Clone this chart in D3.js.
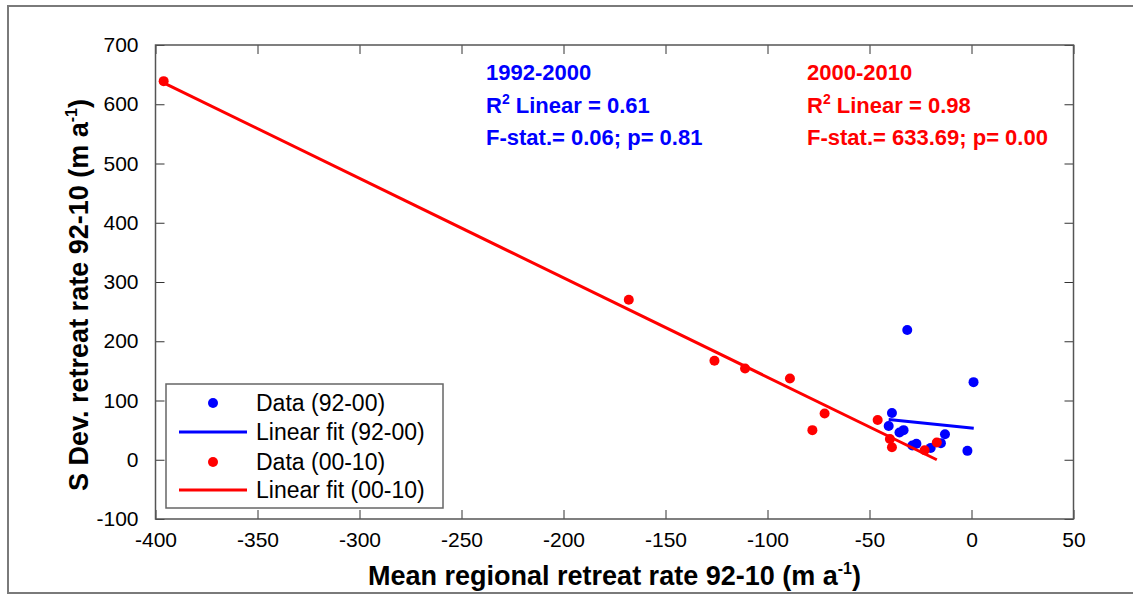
<!DOCTYPE html>
<html><head><meta charset="utf-8">
<script src="https://cdn.jsdelivr.net/npm/d3@7"></script>
<style>body{margin:0;background:#fff}svg{display:block}text{font-family:"Liberation Sans",Arial,sans-serif}</style>
</head><body><svg id="c" width="1133" height="594"></svg>
<script>
const xTicks = [-400,-350,-300,-250,-200,-150,-100,-50,0,50];
const yTicks = [-100,0,100,200,300,400,500,600,700];
const blueX = [-31.5, 1, -39, -40.6, -35.3, -33.3, -29, -27, -20, -15, -13, -2];
const blueY = [219, 131, 79, 57, 46, 50, 24, 27, 20, 28, 43, 15];
const redX = [-396, -168, -126, -111, -89, -72, -78, -46, -40, -39, -23, -17];
const redY = [639, 270, 167, 154, 137, 78, 50, 67, 35, 21, 16, 29];
const blueFitX = [-40.6, 1.1];
const blueFitY = [68, 53];
const redFitX = [-396, -17];
const redFitY = [636, 0];
const legendLabels = ["Data (92-00)","Linear fit (92-00)","Data (00-10)","Linear fit (00-10)"];
const blueStats = ["1992-2000","Linear = 0.61","F-stat.= 0.06; p= 0.81"];
const redStats = ["2000-2010","Linear = 0.98","F-stat.= 633.69; p= 0.00"];

const BLUE="#0000ff", RED="#ff0000";
const svg = d3.select("#c");
const L=155.5, R=1073.5, T=45, B=519;
const x = d3.scaleLinear().domain([-400,50]).range([L,R]);
const y = d3.scaleLinear().domain([-100,700]).range([B,T]);
const fmt = d => String(d);

// outer border
svg.append("rect").attr("x",8).attr("y",6).attr("width",1140).attr("height",587)
  .attr("fill","none").attr("stroke","#7a7a7a").attr("stroke-width",2);

// axes with inward ticks
const ax = (g)=>g.selectAll(".domain").remove();
svg.append("g").attr("transform",`translate(0,${B})`)
  .call(d3.axisBottom(x).tickValues(xTicks).tickSizeInner(-9).tickSizeOuter(0).tickPadding(13).tickFormat(fmt))
  .call(ax).call(g=>g.selectAll("text").attr("font-size",21).attr("fill","#000").attr("dy","0.71em"))
  .call(g=>g.selectAll("line").attr("stroke","#333"));
svg.append("g").attr("transform",`translate(0,${T})`)
  .call(d3.axisTop(x).tickValues(xTicks).tickSizeInner(-9).tickSizeOuter(0).tickFormat(""))
  .call(ax).call(g=>g.selectAll("line").attr("stroke","#333"));
svg.append("g").attr("transform",`translate(${L},0)`)
  .call(d3.axisLeft(y).tickValues(yTicks).tickSizeInner(-9).tickSizeOuter(0).tickPadding(17).tickFormat(fmt))
  .call(ax).call(g=>g.selectAll("text").attr("font-size",21).attr("fill","#000"))
  .call(g=>g.selectAll("line").attr("stroke","#333"));
svg.append("g").attr("transform",`translate(${R},0)`)
  .call(d3.axisRight(y).tickValues(yTicks).tickSizeInner(-9).tickSizeOuter(0).tickFormat(""))
  .call(ax).call(g=>g.selectAll("line").attr("stroke","#333"));
svg.append("rect").attr("x",L).attr("y",T).attr("width",R-L).attr("height",B-T)
  .attr("fill","none").attr("stroke","#555").attr("stroke-width",1.5);

// data
const line = d3.line().x(d=>x(d[0])).y(d=>y(d[1]));
svg.append("g").selectAll("circle").data(d3.zip(blueX,blueY)).join("circle")
  .attr("cx",d=>x(d[0])).attr("cy",d=>y(d[1])).attr("r",5).attr("fill",BLUE);
svg.append("path").datum(d3.zip(blueFitX,blueFitY)).attr("d",line)
  .attr("fill","none").attr("stroke",BLUE).attr("stroke-width",3);
svg.append("g").selectAll("circle").data(d3.zip(redX,redY)).join("circle")
  .attr("cx",d=>x(d[0])).attr("cy",d=>y(d[1])).attr("r",5).attr("fill",RED);
svg.append("path").datum(d3.zip(redFitX,redFitY)).attr("d",line)
  .attr("fill","none").attr("stroke",RED).attr("stroke-width",3);

// stats text
function stats(x0, lines, col){
  const g = svg.append("g").attr("fill",col).attr("font-weight","bold").attr("font-size",22);
  g.append("text").attr("x",x0).attr("y",80).text(lines[0]);
  const t = g.append("text").attr("x",x0).attr("y",113);
  t.append("tspan").text("R");
  t.append("tspan").attr("font-size",14).attr("dy",-9).text("2");
  t.append("tspan").attr("dy",9).text(" "+lines[1]);
  g.append("text").attr("x",x0).attr("y",145).text(lines[2]);
}
stats(486, blueStats, BLUE);
stats(807, redStats, RED);

// legend
const lg = svg.append("g");
lg.append("rect").attr("x",166).attr("y",384).attr("width",277).attr("height",124)
  .attr("fill","#fff").attr("stroke","#666").attr("stroke-width",1.5);
const rows=[403,432,462,490];
const cols=[BLUE,BLUE,RED,RED];
legendLabels.forEach((lab,i)=>{
  if(i%2===0) lg.append("circle").attr("cx",213).attr("cy",rows[i]).attr("r",5).attr("fill",cols[i]);
  else lg.append("line").attr("x1",179).attr("x2",247).attr("y1",rows[i]).attr("y2",rows[i]).attr("stroke",cols[i]).attr("stroke-width",3);
  lg.append("text").attr("x",256).attr("y",rows[i]).attr("dy","0.36em").attr("font-size",23).text(lab);
});

// axis titles
const xt = svg.append("text").attr("x",(L+R)/2).attr("y",585).attr("text-anchor","middle")
  .attr("font-size",27).attr("font-weight","bold");
xt.append("tspan").text("Mean regional retreat rate 92-10 (m a");
xt.append("tspan").attr("font-size",16).attr("dy",-11).text("-1");
xt.append("tspan").attr("dy",11).text(")");
const yt = svg.append("text").attr("transform","translate(88,295) rotate(-90)").attr("text-anchor","middle")
  .attr("font-size",27).attr("font-weight","bold");
yt.append("tspan").text("S Dev. retreat rate 92-10 (m a");
yt.append("tspan").attr("font-size",16).attr("dy",-11).text("-1");
yt.append("tspan").attr("dy",11).text(")");
</script></body></html>
